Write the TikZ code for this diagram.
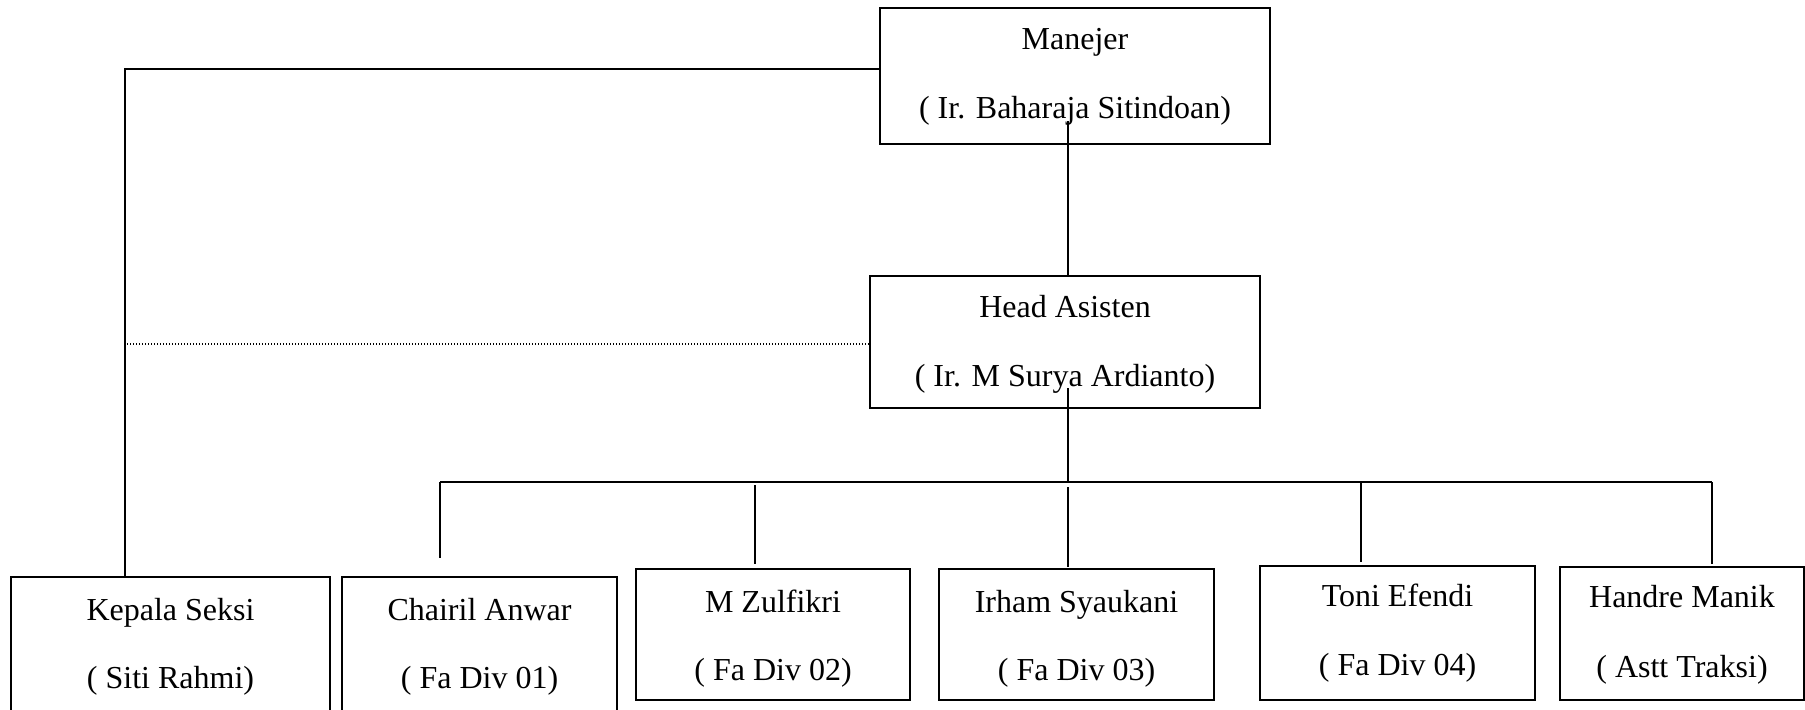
\documentclass[tikz,border=0pt]{standalone}
\usepackage{fontspec}
\setmainfont{Liberation Serif}
\begin{document}
\begin{tikzpicture}[x=0.5pt,y=-0.5pt,
  box/.style={draw, line width=1.1pt, inner sep=0pt},
  bw/.style={minimum width=#1*0.5pt},
  bh/.style={minimum height=#1*0.5pt},
  txt/.style={anchor=base, inner sep=0pt, font=\fontsize{16}{19}\selectfont},
  conn/.style={line width=1pt},
  dotconn/.style={line width=0.8pt, dash pattern=on 0.7pt off 0.8pt}]
\useasboundingbox (0,0) rectangle (1805,709);

% boxes
\node[box, bw=390, bh=136] (mgr) at (1075,76) {};
\node[box, bw=390, bh=132] (head) at (1065,342) {};
\node[box, bw=319, bh=134] (ks) at (170.5,644) {};
\node[box, bw=275, bh=134] (c1) at (479.5,644) {};
\node[box, bw=274, bh=131] (c2) at (773,634.5) {};
\node[box, bw=275, bh=131] (c3) at (1076.5,634.5) {};
\node[box, bw=275, bh=134] (c4) at (1397.5,633) {};
\node[box, bw=244, bh=133] (c5) at (1682,633.5) {};

% texts
\node[txt] (mgr-a) at (mgr.center |- 0,49) {Manejer};
\node[txt] (mgr-b) at (mgr.center |- 0,118) {( Ir. Baharaja Sitindoan)};
\node[txt] (head-a) at (head.center |- 0,317) {Head Asisten};
\node[txt] (head-b) at (head.center |- 0,386) {( Ir. M Surya Ardianto)};
\node[txt] (ks-a) at (ks.center |- 0,620) {Kepala Seksi};
\node[txt] (ks-b) at (ks.center |- 0,688) {( Siti Rahmi)};
\node[txt] (c1-a) at (c1.center |- 0,620) {Chairil Anwar};
\node[txt] (c1-b) at (c1.center |- 0,688) {( Fa Div 01)};
\node[txt] (c2-a) at (c2.center |- 0,612) {M Zulfikri};
\node[txt] (c2-b) at (c2.center |- 0,680) {( Fa Div 02)};
\node[txt] (c3-a) at (c3.center |- 0,612) {Irham Syaukani};
\node[txt] (c3-b) at (c3.center |- 0,680) {( Fa Div 03)};
\node[txt] (c4-a) at (c4.center |- 0,606) {Toni Efendi};
\node[txt] (c4-b) at (c4.center |- 0,675) {( Fa Div 04)};
\node[txt] (c5-a) at (c5.center |- 0,607) {Handre Manik};
\node[txt] (c5-b) at (c5.center |- 0,677) {( Astt Traksi)};

% helper coordinates
\coordinate (tl) at (125,69);
\coordinate (dl) at (125,344);
\coordinate (mgrdown) at (1068,121);
\coordinate (headdown) at (1068,388);
\coordinate (busL) at (440,482);
\coordinate (busM) at (1068,482);
\coordinate (busR) at (1712,482);
\coordinate (d1e) at (440,558);
\coordinate (d2s) at (755,485);
\coordinate (d2e) at (755,564);
\coordinate (d3s) at (1068,487);
\coordinate (d3e) at (1068,567);
\coordinate (d4s) at (1361,482);
\coordinate (d4e) at (1361,562);
\coordinate (d5e) at (1712,564);

% connectors
\draw[conn] (mgr.west |- tl) -- (tl) -- (tl |- ks.north);
\draw[dotconn] (head.west |- dl) -- (dl);
\draw[conn] (mgrdown) -- (mgrdown |- head.north);
\draw[conn] (headdown) -- (busM);
\draw[conn] (busL) -- (busR);
\draw[conn] (busL) -- (d1e);
\draw[conn] (d2s) -- (d2e);
\draw[conn] (d3s) -- (d3e);
\draw[conn] (d4s) -- (d4e);
\draw[conn] (busR) -- (d5e);
\end{tikzpicture}
\end{document}
